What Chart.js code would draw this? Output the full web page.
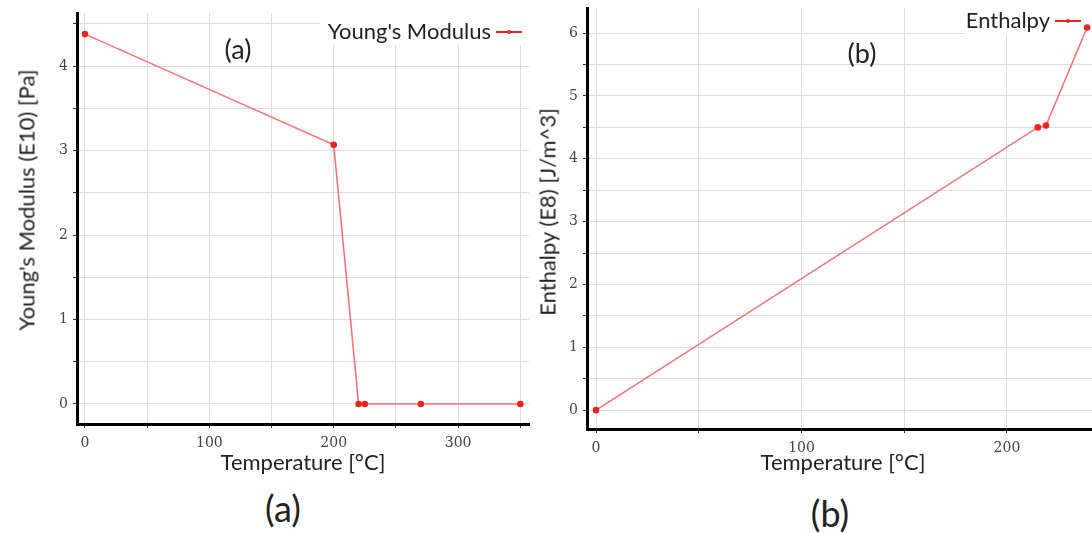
<!DOCTYPE html>
<html>
<head>
<meta charset="utf-8">
<script src="https://cdn.jsdelivr.net/npm/chart.js@4.4.0/dist/chart.umd.min.js"></script>
<style>
  html, body { margin: 0; padding: 0; background: #fff; overflow: hidden; }
  body { width: 1092px; height: 533px; position: relative; }
  canvas { position: absolute; top: 0; }
  #chartA { left: 0; }
  #chartB { left: 530px; }
  .cap { position: absolute; font-family: Lato, sans-serif; color: #222; transform: translate(-50%, -50%); white-space: nowrap; }
  .big { font-size: 36px; }
  .mid { font-size: 27px; }
  .ytit { font-size: 22px; transform: translate(-50%, -50%) rotate(-90deg); }
</style>
</head>
<body>
<canvas id="chartA" width="540" height="480"></canvas>
<canvas id="chartB" width="570" height="480"></canvas>
<div class="cap ytit" style="left:26px; top:200px;">Young's Modulus (E10) [Pa]</div>
<div class="cap ytit" style="left:547px; top:212px;">Enthalpy (E8) [J/m^3]</div>
<div class="cap mid" style="left:238px; top:48px;">(a)</div>
<div class="cap mid" style="left:862px; top:52px;">(b)</div>
<div class="cap big" style="left:283px; top:508px;">(a)</div>
<div class="cap big" style="left:830px; top:513px;">(b)</div>
<script>
// datos (a): módulo de Young
const tempA = [0, 200, 220, 225, 270, 350];
const youngA = [4.38, 3.07, 0, 0, 0, 0];
// datos del gráfico (b): entalpía
const tempB = [0, 215, 219, 239];
const enthalpyB = [0, 4.50, 4.53, 6.09];

// marcas de los ejes (las etiquetas solo se ven en los valores enteros / cada 100)
const xTicksA = [0, 50, 100, 150, 200, 250, 300, 350];
const yTicksA = [0, 0.5, 1, 1.5, 2, 2.5, 3, 3.5, 4, 4.5];
const xTicksB = [0, 50, 100, 150, 200];
const yTicksB = [0, 0.5, 1, 1.5, 2, 2.5, 3, 3.5, 4, 4.5, 5, 5.5, 6];

const lineColor = "rgba(238, 95, 95, 0.85)";
const dotColor = "#e8251f";
const tickFont = { family: "DejaVu Serif", size: 14 };
const titleFont = { family: "Lato", size: 22 };

// leyenda dibujada dentro del área del gráfico, con fondo blanco
const legendBox = {
  id: "legendBox",
  beforeDatasetsDraw(chart, args, opts) {
    const ctx = chart.ctx;
    const area = chart.chartArea;
    ctx.save();
    ctx.fillStyle = "#fff";
    ctx.fillRect(opts.boxLeft, area.top - 1, area.right - opts.boxLeft + 2, opts.boxHeight);
    ctx.font = "22px Lato";
    ctx.fillStyle = "#222";
    ctx.textAlign = "right";
    ctx.textBaseline = "middle";
    ctx.fillText(chart.data.datasets[0].label, opts.textRight, opts.y);
    ctx.strokeStyle = dotColor;
    ctx.lineWidth = 2;
    ctx.beginPath();
    ctx.moveTo(opts.textRight + 5, opts.y);
    ctx.lineTo(opts.textRight + 31, opts.y);
    ctx.stroke();
    ctx.fillStyle = dotColor;
    ctx.beginPath();
    ctx.arc(opts.textRight + 18, opts.y, 2, 0, Math.PI * 2);
    ctx.fill();
    ctx.restore();
  }
};

function hacerGrafico(id, xs, ys, label, ejes) {
  return new Chart(id, {
    type: "line",
    data: {
      datasets: [{
        label: label,
        data: xs.map((x, i) => ({ x: x, y: ys[i] })),
        borderColor: lineColor,
        borderWidth: 1.6,
        pointBackgroundColor: dotColor,
        pointBorderColor: dotColor,
        pointRadius: 2.5,
        tension: 0,
        clip: 4
      }]
    },
    options: {
      responsive: false,
      animation: false,
      devicePixelRatio: 1,
      layout: { autoPadding: false, padding: { top: ejes.top, right: ejes.right, left: 0, bottom: 0 } },
      plugins: {
        legend: { display: false },
        tooltip: { enabled: false },
        legendBox: ejes.legend
      },
      scales: {
        x: {
          type: "linear",
          min: ejes.xmin,
          max: ejes.xmax,
          afterFit: (s) => { s.height = ejes.xh; s.paddingLeft = 0; s.paddingRight = 0; },
          afterBuildTicks: (s) => { s.ticks = ejes.xticks.map((v) => ({ value: v })); },
          border: { display: true, color: "#000", width: 3 },
          grid: { color: "#dcdcdc", tickLength: 4, tickColor: "#333" },
          ticks: {
            maxRotation: 0,
            autoSkip: false,
            padding: 7,
            color: "#444",
            font: tickFont,
            callback: (v) => (v % 100 === 0 ? v : "")
          },
          title: { display: true, text: "Temperature [°C]", color: "#222", font: titleFont, padding: 4 }
        },
        y: {
          type: "linear",
          min: ejes.ymin,
          max: ejes.ymax,
          afterFit: (s) => { s.width = ejes.yw; s.paddingTop = 0; s.paddingBottom = 0; },
          afterBuildTicks: (s) => { s.ticks = ejes.yticks.map((v) => ({ value: v })); },
          border: { display: true, color: "#000", width: 3 },
          grid: { color: "#dcdcdc", tickLength: 4, tickColor: "#333" },
          ticks: {
            autoSkip: false,
            padding: 5,
            color: "#444",
            font: tickFont,
            callback: (v) => (v % 1 === 0 ? v : "")
          }
        }
      }
    },
    plugins: [legendBox]
  });
}

hacerGrafico("chartA", tempA, youngA, "Young's Modulus", {
  xmin: -6.4, xmax: 357, ymin: -0.237, ymax: 4.63,
  xticks: xTicksA, yticks: yTicksA,
  top: 13, right: 11, xh: 56, yw: 77,
  legend: { boxLeft: 320, boxHeight: 33, textRight: 491, y: 32 }
});

hacerGrafico("chartB", tempB, enthalpyB, "Enthalpy", {
  xmin: -4.4, xmax: 244.8, ymin: -0.3, ymax: 6.4,
  xticks: xTicksB, yticks: yTicksB,
  top: 8, right: 1, xh: 51, yw: 57,
  legend: { boxLeft: 435, boxHeight: 28, textRight: 520, y: 21 }
});
</script>
</body>
</html>
